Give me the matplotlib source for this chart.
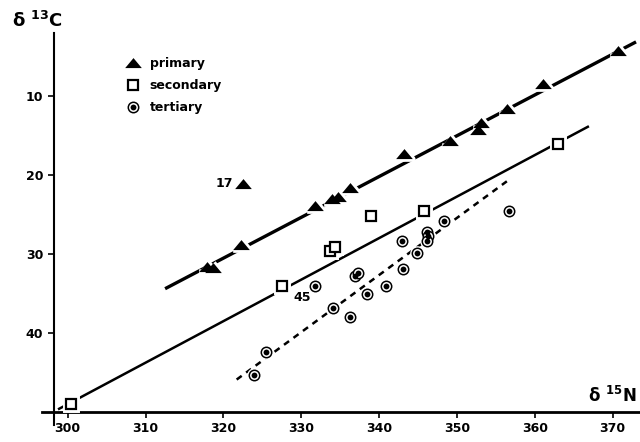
import matplotlib
matplotlib.use('Agg')
from matplotlib import pyplot as plt
from matplotlib.lines import Line2D

# delta 15N (x) and delta 13C (y) values
primary_n = [317.9, 318.7, 322.3, 331.7, 333.9, 334.7, 336.2, 343.2,
             349.1, 352.7, 353.1, 356.4, 361.1, 370.7]
primary_c = [31.6, 31.8, 28.9, 23.9, 23.1, 22.8, 21.6, 17.3,
             15.7, 14.3, 13.4, 11.6, 8.5, 4.3]
outlier_n = [322.5]   # point "17"
outlier_c = [21.1]

secondary_n = [300.4, 327.5, 333.7, 334.3, 339.0, 345.7, 363.0]
secondary_c = [49.0, 34.0, 29.6, 29.1, 25.2, 24.5, 16.1]

tertiary_n = [323.9, 325.5, 331.8, 334.1, 336.2, 336.9, 337.3, 338.5, 340.9,
              342.9, 343.1, 344.9, 346.1, 346.3, 346.2, 348.3, 356.7]
tertiary_c = [45.3, 42.4, 34.1, 36.9, 38.0, 32.8, 32.4, 35.1, 34.0,
              28.3, 31.9, 29.9, 27.2, 27.7, 28.4, 25.8, 24.5]

# regression lines (end points)
primary_fit_n = [312.7, 372.8]
primary_fit_c = [34.3, 3.25]
secondary_fit_n = [298.9, 366.8]
secondary_fit_c = [49.6, 13.9]
tertiary_fit_n = [321.7, 356.4]
tertiary_fit_c = [45.9, 20.8]

x_ticks = [300, 310, 320, 330, 340, 350, 360, 370]
y_ticks = [10, 20, 30, 40]

plt.rcParams['font.family'] = ['DejaVu Sans']
plt.rcParams['font.weight'] = 'bold'
plt.rcParams['mathtext.fontset'] = 'dejavusans'

tri = [(-1, -0.55), (1, -0.55), (0, 0.65)]

fig = plt.figure(figsize=(6.4, 4.42), dpi=100)
ax = fig.add_axes([0.0656, 0.0394, 0.9344, 0.8864])
ax.set_xlim(296.7, 373.5)
ax.set_ylim(51.6, 2.0)

# fitted lines
ax.plot(primary_fit_n, primary_fit_c, color='k', lw=2.4, zorder=2)
ax.plot(secondary_fit_n, secondary_fit_c, color='k', lw=1.8, zorder=2)
ax.plot(tertiary_fit_n, tertiary_fit_c, color='k', lw=1.8,
        linestyle=(0, (2.5, 2.2)), zorder=2)

# white halos so the lines break around the symbols
ax.plot(primary_n + outlier_n, primary_c + outlier_c, linestyle='none',
        marker=tri, ms=12, color='w', mec='w', mew=4, zorder=3)
ax.plot(secondary_n, secondary_c, linestyle='none', marker='s', ms=6.5,
        color='w', mec='w', mew=5, zorder=3)
ax.plot(tertiary_n, tertiary_c, linestyle='none', marker='o', ms=7.5,
        color='w', mec='w', mew=3, zorder=3)

# symbols
ax.plot(primary_n + outlier_n, primary_c + outlier_c, linestyle='none',
        marker=tri, ms=12, color='k', mew=0, zorder=4)
ax.plot(secondary_n, secondary_c, linestyle='none', marker='s', ms=6.5,
        mfc='w', mec='k', mew=1.6, zorder=4)
ax.plot(tertiary_n, tertiary_c, linestyle='none', marker='o', ms=7.5,
        mfc='w', mec='k', mew=1.1, zorder=4)
ax.plot(tertiary_n, tertiary_c, linestyle='none', marker='o', ms=4.2,
        color='k', mew=0, zorder=5)

ax.annotate('17', (outlier_n[0], outlier_c[0]), xytext=(-7, 0),
            textcoords='offset points', ha='right', va='center',
            fontsize=9, fontweight='bold')
ax.annotate('45', (tertiary_n[2], tertiary_c[2]), xytext=(-9.5, -8),
            textcoords='offset points', ha='center', va='center',
            fontsize=9, fontweight='bold')

# legend
h_pri = Line2D([], [], linestyle='none', marker=tri, ms=12, color='k', mew=0)
h_sec = Line2D([], [], linestyle='none', marker='s', ms=6.5, mfc='w', mec='k', mew=1.6)
h_ter_ring = Line2D([], [], linestyle='none', marker='o', ms=7.5, mfc='w', mec='k', mew=1.1)
h_ter_dot = Line2D([], [], linestyle='none', marker='o', ms=4.2, color='k', mew=0)
ax.legend([h_pri, h_sec, (h_ter_ring, h_ter_dot)],
          ['primary', 'secondary', 'tertiary'],
          loc='upper left', bbox_to_anchor=(0.132, 0.950),
          frameon=False, fontsize=9, handlelength=1.2, handletextpad=0.7,
          labelspacing=0.72, borderaxespad=0)

# axes in the style of the original
for side in ['top', 'right']:
    ax.spines[side].set_visible(False)
ax.spines['left'].set_position(('data', 298.2))
ax.spines['bottom'].set_position(('data', 50))
ax.spines['left'].set_linewidth(1.5)
ax.spines['bottom'].set_linewidth(2.0)
ax.set_xticks(x_ticks)
ax.set_yticks(y_ticks)
ax.tick_params(direction='out', length=4, width=1.2, labelsize=9)
for label in ax.get_xticklabels() + ax.get_yticklabels():
    label.set_fontweight('bold')

fig.text(12 / 640, 1 - 27 / 442, r'δ $^{\mathbf{13}}\mathbf{C}$',
         fontsize=13, va='baseline', ha='left')
ax.text(366.8, 48.7, r'δ $^{\mathbf{15}}\mathbf{N}$', fontsize=12,
        va='baseline', ha='left', clip_on=False)

fig.savefig('out.png', dpi=100)
